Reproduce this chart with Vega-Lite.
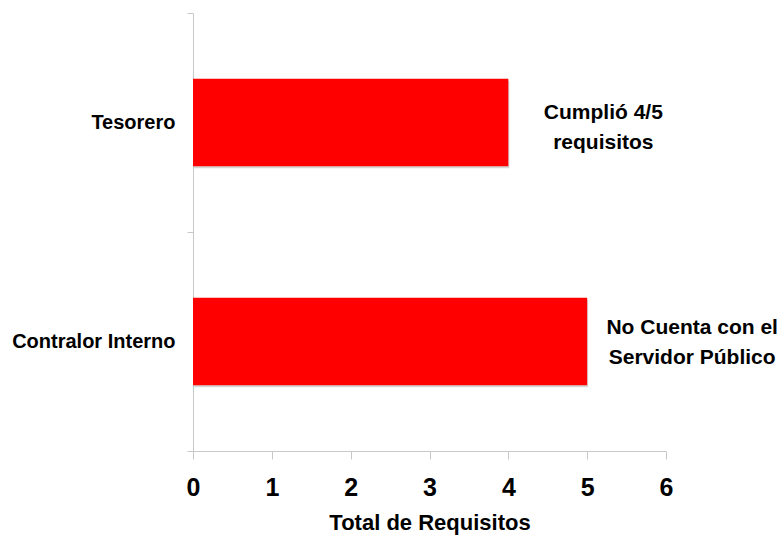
{
  "$schema": "https://vega.github.io/schema/vega-lite/v6.json",
  "autosize": "none",
  "width": 473,
  "height": 438,
  "padding": {"left": 193, "top": 13, "right": 117, "bottom": 84},
  "background": "white",
  "config": {"view": {"stroke": null}},
  "data": {
    "values": [
      {"cargo": "Tesorero", "requisitos": 4, "nota": "Cumplió 4/5\nrequisitos"},
      {"cargo": "Contralor Interno", "requisitos": 5, "nota": "No Cuenta con el\nServidor Público"}
    ]
  },
  "encoding": {
    "y": {
      "field": "cargo",
      "type": "nominal",
      "sort": ["Tesorero", "Contralor Interno"],
      "scale": {"paddingInner": 0, "paddingOuter": 0},
      "axis": {
        "title": null,
        "tickBand": "extent",
        "domainColor": "#c8c8c8",
        "tickColor": "#c8c8c8",
        "tickSize": 6,
        "labelPadding": 12,
        "labelLimit": 300,
        "labelFont": "Liberation Sans",
        "labelFontWeight": "bold",
        "labelFontSize": 20,
        "labelColor": "#000000"
      }
    },
    "x": {
      "field": "requisitos",
      "type": "quantitative",
      "scale": {"domain": [0, 6], "nice": false},
      "axis": {
        "title": "Total de Requisitos",
        "values": [0, 1, 2, 3, 4, 5, 6],
        "grid": false,
        "labelFlush": false,
        "domainColor": "#c8c8c8",
        "tickColor": "#c8c8c8",
        "tickSize": 8,
        "labelPadding": 16,
        "labelFont": "Liberation Sans",
        "labelFontWeight": "bold",
        "labelFontSize": 25,
        "labelColor": "#000000",
        "titleFont": "Liberation Sans",
        "titleFontWeight": "bold",
        "titleFontSize": 22,
        "titleColor": "#000000",
        "titlePadding": 12
      }
    }
  },
  "layer": [
    {
      "mark": {"type": "bar", "color": "#b0b0b0", "opacity": 0.5, "xOffset": 1, "yOffset": 2, "height": {"band": 0.4}}
    },
    {
      "mark": {"type": "bar", "color": "#FF0000", "height": {"band": 0.4}}
    },
    {
      "transform": [{"filter": "datum.cargo === 'Tesorero'"}],
      "mark": {"type": "text", "align": "center", "baseline": "middle", "dx": 95, "dy": -10, "lineBreak": "\n", "lineHeight": 30, "font": "Liberation Sans", "fontWeight": "bold", "fontSize": 21, "color": "#000000", "clip": false},
      "encoding": {"text": {"field": "nota"}}
    },
    {
      "transform": [{"filter": "datum.cargo === 'Contralor Interno'"}],
      "mark": {"type": "text", "align": "center", "baseline": "middle", "dx": 105, "dy": -14, "lineBreak": "\n", "lineHeight": 30, "font": "Liberation Sans", "fontWeight": "bold", "fontSize": 21, "color": "#000000", "clip": false},
      "encoding": {"text": {"field": "nota"}}
    }
  ]
}
